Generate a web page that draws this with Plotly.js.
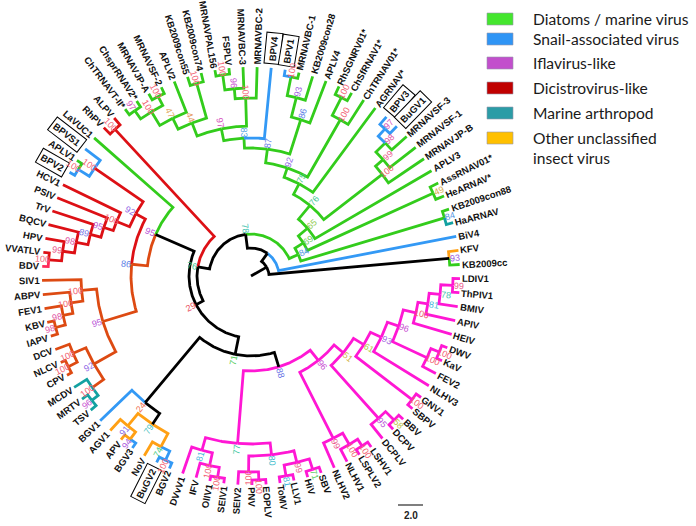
<!DOCTYPE html>
<html><head><meta charset="utf-8">
<script src="https://cdn.plot.ly/plotly-3.0.1.min.js"></script>
<style>html,body{margin:0;padding:0;background:#fff}#chart{width:696px;height:526px}</style>
</head><body><div id="chart"></div>
<script>
// ---------------- DATA ----------------
// Leaves in clockwise order around the circle (starting just below the 3 o'clock position)
const leafNames = ['LDIV1','ThPIV1','BMIV','APIV','HEIV','DWV','KaV','FEV2','NLHV3','GNV1','SBPV','BBV','DCPV','DCPLV','LSHV1','LSPLV2','NLHV1','NLHV2','SBV','HiV','LLV1','ToMV','EOPLV','PNV','SEIV2','SEIV1','OlIV1','IFV','DVvV1',
 'BGV2','BuGV2','NoV','BGV3','APV','AGV1','BGV1','TSV','MRTV','MCDV','CPV','NLCV','DCV','IAPV','KBV','FEV1','ABPV','SIV1',
 'BDV','VVATLV','HPV','BQCV','TrV','PSIV','HCV1','BPV2','APLV1','BPVS1','LaVUC1','RhPV','ALPV',
 'ChTRNAVT-II*','ChsprRNAV2*','MRNAVJP-A','MRNAVSF-2','APLV2','KB2009con55','KB2009con74','MRNAVPAL156','FSPLV','MRNAVBC-3','MRNAVBC-2','BPV4','BPV1','MRNAVBC-1','KB2009con28','APLV4','RhSGNRV01*','ChSfRNAV1*','ChTRNAV01*','AGRNAV*','BPV3','BuGV1','MRNAVSF-3','MRNAVSF-1','MRNAVJP-B','APLV3','AssRNAV01*','HeARNAV*','KB2009con88','HaARNAV','BiV4','KFV','KB2009cc'];
// Group of each leaf branch: g diatom/marine, b snail, m ifla, r dicistro, p dicistro (BDV), o cripa-like, t marine arthropod, y other insect
const leafGroup = ['m','m','m','m','m','m','m','m','m','m','m','m','m','m','m','m','m','m','m','m','m','m','m','m','m','m','m','m','m',
 'b','b','y','b','y','y','b','t','t','t','o','o','o','o','o','o','o','o',
 'p','r','r','r','r','r','r','b','g','b','g','r','r',
 'g','g','g','g','g','g','g','g','g','g','g','b','b','g','g','g','g','g','g','g','b','b','g','g','g','g','g','g','g','t','b','y','g'];
// Leaves drawn in a box
const boxedLeaves = ['BPV4','BPV1','BPV3','BuGV1','BPVS1','BPV2','BuGV2'];

// Internal nodes: children, depth from root (tree units), bootstrap support, group of branch leading to node
const nodeNames = ['H1','H2','H3','H4','D1','D2','H5','H6','GS','H7','B1','B2','H8','C1','C2','C3','RS','SH','LT','K4','K1','K2','K5','L1','L2','L3','KL','M0','BG4','BG5','BG2a','BG2','BG1','BG0','X5','T1','T0','D1c','D2c','CT1','K1c','K2c','K3c','K4c','Cr0','R1','R2','R3','R4','R5','R6','A1','A2','R7','O1','P1','X4','RA','X3','Q1','Q2','Q3','Q4','Q6','Q5','S2','S1','S3','Q7','Q8','I1','I2','I3','Q9','J1','J2','G6','G5','F1','F2','F3','F4','G4','G3','E1','G2','E2','G1','X2','X1','KK','ROOT'];
const nodeChildren = [['LDIV1','ThPIV1'],['H1','BMIV'],['H2','APIV'],['H3','HEIV'],['DWV','KaV'],['D1','FEV2'],['H4','D2'],['H5','NLHV3'],['GNV1','SBPV'],['H6','GS'],
 ['BBV','DCPV'],['B1','DCPLV'],['H7','B2'],['LSHV1','LSPLV2'],['C1','NLHV1'],['C2','NLHV2'],['H8','C3'],['SBV','HiV'],['LLV1','ToMV'],['SH','LT'],
 ['EOPLV','PNV'],['K1','SEIV2'],['K4','K2'],['SEIV1','OlIV1'],['L1','IFV'],['L2','DVvV1'],['K5','L3'],['RS','KL'],['BGV2','BuGV2'],['BG4','NoV'],
 ['BGV3','APV'],['BG2a','AGV1'],['BG5','BG2'],['BG1','BGV1'],['M0','BG0'],['TSV','MRTV'],['T1','MCDV'],['CPV','NLCV'],['D1c','DCV'],['T0','D2c'],
 ['IAPV','KBV'],['K1c','FEV1'],['K2c','ABPV'],['K3c','SIV1'],['CT1','K4c'],['BDV','VVATLV'],['R1','HPV'],['R2','BQCV'],['R3','TrV'],['R4','PSIV'],
 ['R5','HCV1'],['BPV2','APLV1'],['A1','BPVS1'],['R6','A2'],['Cr0','R7'],['O1','LaVUC1'],['X5','P1'],['RhPV','ALPV'],['X4','RA'],['ChTRNAVT-II*','ChsprRNAV2*'],
 ['MRNAVJP-A','MRNAVSF-2'],['Q1','Q2'],['Q3','APLV2'],['KB2009con55','KB2009con74'],['Q4','Q6'],['MRNAVPAL156','FSPLV'],['S2','MRNAVBC-3'],['S1','MRNAVBC-2'],['Q5','S3'],['Q7','BPV4'],
 ['BPV1','MRNAVBC-1'],['I1','KB2009con28'],['I2','APLV4'],['Q8','I3'],['RhSGNRV01*','ChSfRNAV1*'],['J1','ChTRNAV01*'],['Q9','J2'],['G6','AGRNAV*'],['BPV3','BuGV1'],['F1','MRNAVSF-3'],
 ['F2','MRNAVSF-1'],['F3','MRNAVJP-B'],['G5','F4'],['G4','APLV3'],['AssRNAV01*','HeARNAV*'],['G3','E1'],['KB2009con88','HaARNAV'],['G2','E2'],['X3','G1'],['X2','BiV4'],
 ['KFV','KB2009cc'],['X1','KK']];
const nodeDepth = [202,190,179,169,203,194,156,144,203,132, 203,191,120,203,195,182,108,203,203,192, 204,196,180,204,194,181,168,95,203,193, 203,194,178,165,80,202,194,204,194,180,
 202,192,182,170,155,203,190,178,166,155, 145,203,190,131,120,104,62,200,54,202, 202,192,176,200,164,203,188,178,150,138, 203,184,164,128,200,180,114,104,199,189,
 176,166,92,74,200,62,202,52,42,28, 199,18];
const nodeSupport = [99,78,81,100,100,100,96,93,100,61, 58,95,51,100,100,99,96,71,81,99, 100,100,80,100,100,81,77,88,100,74, 94,91,79,24,71,96,100,100,100,92,
 98,98,100,100,95,100,99,98,89,95, 100,100,100,92,86,95,29,100,76,97, 100,100,47,100,44,100,96,100,97,83, 100,93,86,87,100,100,92,75,97,98,
 99,100,76,65,49,69,84,84,78,null, 93,null];
const nodeGroup = ['m','m','m','m','m','m','m','m','m','m', 'm','m','m','m','m','m','m','m','m','m', 'm','m','m','m','m','m','m','k','b','y', 'y','y','k','k','k','t','o','o','o','o',
 'o','o','o','o','o','r','r','r','r','r', 'r','b','r','r','o','k','k','r','k','g', 'g','g','g','g','g','g','g','g','g','g', 'g','g','g','g','g','g','g','g','b','g',
 'g','g','g','g','g','g','g','g','k','k', 'k','k'];
const tipDepth = 209;
const scaleBarLabel = '2.0';

// Legend entries
const legendLabels = ['Diatoms / marine virus','Snail-associated virus','Iflavirus-like','Dicistrovirus-like','Marine arthropod','Other unclassified<br>insect virus'];
const legendColors = ['#44e62e','#2f95f5','#c24fcc','#c00000','#2b9ca6','#ffc000'];

// ---------------- STYLE / GEOMETRY ----------------
const lineColors = {g:'#33cc1c', b:'#3399f5', m:'#ff17d4', r:'#dd1015', p:'#ff2a5a', o:'#dd4a12', t:'#13a1a1', y:'#ffa014', k:'#000000'};
const CX = 251, CY = 276;
const TH0 = 0.71, DTH = 360 / leafNames.length;
const LEAF_FONT = 9.5;
const rad = d => d * Math.PI / 180;

const depth = {}, kids = {}, support = {}, group = {}, ang = {};
leafNames.forEach((n, i) => { depth[n] = tipDepth; group[n] = leafGroup[i]; ang[n] = TH0 + i * DTH; });
nodeNames.forEach((n, i) => { kids[n] = nodeChildren[i]; depth[n] = nodeDepth[i]; support[n] = nodeSupport[i]; group[n] = nodeGroup[i]; });
function angOf(n) {
  if (ang[n] !== undefined) return ang[n];
  const c = kids[n];
  ang[n] = (angOf(c[0]) + angOf(c[c.length - 1])) / 2;
  return ang[n];
}
nodeNames.forEach(angOf);

const P = (r, th) => [CX + r * Math.cos(rad(th)), CY + r * Math.sin(rad(th))];
const segs = {};
Object.keys(lineColors).forEach(k => segs[k] = {x: [], y: []});
function addSeg(g, pts) { pts.forEach(p => { segs[g].x.push(p[0]); segs[g].y.push(p[1]); }); segs[g].x.push(null); segs[g].y.push(null); }

nodeNames.forEach(p => {
  const rp = depth[p], tp = ang[p];
  kids[p].forEach(c => {
    const tc = ang[c], pts = [];
    const n = Math.max(2, Math.ceil(Math.abs(tc - tp) / 0.5));
    for (let i = 0; i <= n; i++) pts.push(P(rp, tp + (tc - tp) * i / n));
    pts.push(P(depth[c], tc));
    addSeg(group[c], pts);
  });
});
// root stub
addSeg('k', [P(0, ang['ROOT']), P(depth['ROOT'], ang['ROOT'])]);

const traces = Object.keys(segs).filter(k => segs[k].x.length).map(k => ({
  type: 'scatter', mode: 'lines', x: segs[k].x, y: segs[k].y,
  line: {color: lineColors[k], width: 2.8}, hoverinfo: 'skip', showlegend: false
}));

// text measuring
const ctx = document.createElement('canvas').getContext('2d');
function textW(t, font) { ctx.font = font; return ctx.measureText(t).width; }
function norm(a) { a = ((a % 360) + 360) % 360; return a > 180 ? a - 360 : a; }
function radialAngle(th) { const a = norm(th); return (a > 90 || a < -90) ? norm(a - 180) : a; }

const annotations = [];
// leaf labels
leafNames.forEach(n => {
  const boxed = boxedLeaves.includes(n);
  const w = textW(n, 'bold ' + LEAF_FONT + 'px "Liberation Sans"');
  const rc = tipDepth + 2.5 + (boxed ? (w + 8) / 2 + 1 : w / 2);
  const [x, y] = P(rc, ang[n]);
  const a = {x, y, xref: 'x', yref: 'y', text: n, showarrow: false, xanchor: 'center', yanchor: 'middle',
    textangle: radialAngle(ang[n]), font: {family: 'Liberation Sans, Arial', size: LEAF_FONT, color: '#111', weight: 'bold'}};
  if (boxed) { a.bordercolor = '#000'; a.borderwidth = 1; a.borderpad = 2; a.bgcolor = '#fff'; }
  annotations.push(a);
});

// bootstrap colours
const bsStops = [[24,[240,110,80]],[30,[232,70,90]],[45,[230,160,100]],[52,[205,185,70]],[62,[170,200,70]],[72,[80,205,100]],[77,[60,200,160]],[81,[70,185,220]],[86,[90,125,230]],[92,[145,105,230]],[96,[200,80,210]],[98,[225,85,165]],[100,[242,95,115]]];
function bsColor(v) {
  if (v <= bsStops[0][0]) return 'rgb(' + bsStops[0][1].join(',') + ')';
  for (let i = 1; i < bsStops.length; i++) {
    if (v <= bsStops[i][0]) {
      const [v0, c0] = bsStops[i - 1], [v1, c1] = bsStops[i];
      const f = (v - v0) / (v1 - v0);
      return 'rgb(' + c0.map((c, j) => Math.round(c + (c1[j] - c) * f)).join(',') + ')';
    }
  }
  return 'rgb(' + bsStops[bsStops.length - 1][1].join(',') + ')';
}
nodeNames.forEach(n => {
  const s = support[n];
  if (s === null || s === undefined) return;
  const [x, y] = P(depth[n] + 6, ang[n]);
  annotations.push({x, y, xref: 'x', yref: 'y', text: String(s), showarrow: false, xanchor: 'center', yanchor: 'middle',
    textangle: radialAngle(ang[n]), font: {family: 'Liberation Sans, Arial', size: 9, color: bsColor(s)}});
});

// legend
const shapes = [];
const legendY = [19, 39, 63, 88, 113, 138];
legendLabels.forEach((t, i) => {
  shapes.push({type: 'rect', xref: 'x', yref: 'y', x0: 487, x1: 513, y0: legendY[i] - 6, y1: legendY[i] + 6,
    fillcolor: legendColors[i], line: {color: 'rgba(150,150,170,0.6)', width: 1}});
  annotations.push({x: 531, y: legendY[i] + (i === 5 ? 10 : 0), xref: 'x', yref: 'y', text: t, showarrow: false, xanchor: 'left', yanchor: 'middle', align: 'left',
    font: {family: 'Lato, Open Sans, sans-serif', size: 15.6, color: '#1a1a1a'}});
});

// scale bar
shapes.push({type: 'line', xref: 'x', yref: 'y', x0: 398, x1: 423, y0: 505, y1: 505, line: {color: '#555', width: 1.5}});
annotations.push({x: 410.5, y: 515, xref: 'x', yref: 'y', text: scaleBarLabel, showarrow: false, xanchor: 'center', yanchor: 'middle',
  font: {family: 'Liberation Sans, Arial', size: 10, color: '#222', weight: 'bold'}});

const layout = {
  width: 696, height: 526, margin: {l: 0, r: 0, t: 0, b: 0},
  paper_bgcolor: '#fff', plot_bgcolor: '#fff', showlegend: false,
  xaxis: {range: [0, 696], visible: false, fixedrange: true},
  yaxis: {range: [526, 0], visible: false, fixedrange: true},
  annotations, shapes
};
Plotly.newPlot('chart', traces, layout, {displayModeBar: false, staticPlot: true});
</script></body></html>
